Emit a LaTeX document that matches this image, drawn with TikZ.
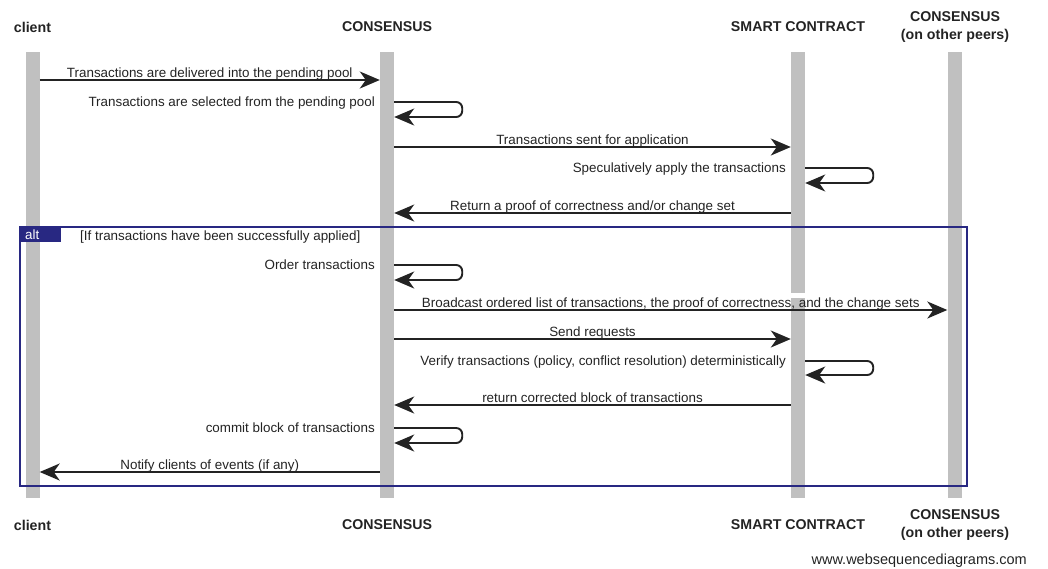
\documentclass[tikz,border=0pt]{standalone}
\usepackage{fontspec}
\setmainfont{Liberation Sans}
\usetikzlibrary{arrows.meta}

\definecolor{barGray}{RGB}{192,192,192}
\definecolor{altNavy}{RGB}{40,40,130}
\definecolor{inkGray}{RGB}{35,35,35}

\begin{document}
\begin{tikzpicture}[
    x=1pt, y=-1pt,
    >={Stealth[length=20pt, width=17pt, inset=6pt]},
    lifebar/.style={fill=barGray, minimum width=14pt, inner sep=0pt},
    actor/.style={font=\bfseries\fontsize{14.2}{18}\selectfont, align=center, inner sep=0pt, text=inkGray},
    msg/.style={->, line width=1.9pt, draw=inkGray},
    loopmsg/.style={msg, rounded corners=6pt},
    msglabel/.style={font=\fontsize{13.4}{15}\selectfont, inner sep=0pt, anchor=base, text=inkGray},
    selflabel/.style={msglabel, anchor=base east}
]

% --- Page frame ---
\useasboundingbox (0,0) rectangle (1048,568);

% --- Lifelines (gray bars) ---
\node[lifebar, minimum height=446pt] (client) at (32.5,275) {};
\node[lifebar, minimum height=446pt] (cons)   at (387,275) {};
\node[lifebar, minimum height=241pt] (sc)     at (798,172.5) {};
\node[lifebar, minimum height=200pt] (scLow)  at (798,398) {};
\node[lifebar, minimum height=446pt] (peers)  at (954.5,275) {};

% --- Actor names, top and bottom ---
\node[actor] (clientTop) at (32.5,27) {client};
\node[actor] (consTop)   at (387,27) {CONSENSUS};
\node[actor] (scTop)     at (798,27) {SMART CONTRACT};
\node[actor] (peersTop)  at (955,27) {CONSENSUS\\(on other peers)};

\node[actor] (clientBot) at (32.5,525) {client};
\node[actor] (consBot)   at (387,525) {CONSENSUS};
\node[actor] (scBot)     at (798,525) {SMART CONTRACT};
\node[actor] (peersBot)  at (955,525) {CONSENSUS\\(on other peers)};

% --- alt frame ---
\draw[altNavy, line width=2pt] (20,227) rectangle (967,486);
\fill[altNavy] (20,227) rectangle (61,242);
\node[msglabel, anchor=base west, text=white] (altTab) at (25,239) {alt};
\node[msglabel, anchor=base west] (altGuard) at (80,240) {[If transactions have been successfully applied]};

% --- Messages ---
\draw[msg] (client.east |- 0,80) -- node[midway, msglabel, yshift=3pt] (m1) {Transactions are delivered into the pending pool} (cons.west |- 0,80);

\node[selflabel] (m2) at (375,106) {Transactions are selected from the pending pool};
\draw[loopmsg] (cons.east |- 0,102) -- ++(68,0) -- ++(0,15) -- (cons.east |- 0,117);

\draw[msg] (cons.east |- 0,147) -- node[midway, msglabel, yshift=3pt] (m3) {Transactions sent for application} (sc.west |- 0,147);

\node[selflabel] (m4) at (786,172) {Speculatively apply the transactions};
\draw[loopmsg] (sc.east |- 0,168) -- ++(68,0) -- ++(0,15) -- (sc.east |- 0,183);

\draw[msg] (sc.west |- 0,213) -- node[midway, msglabel, yshift=3pt] (m5) {Return a proof of correctness and/or change set} (cons.east |- 0,213);

% inside the alt frame
\node[selflabel] (m6) at (375,269) {Order transactions};
\draw[loopmsg] (cons.east |- 0,265) -- ++(68,0) -- ++(0,15) -- (cons.east |- 0,280);

\draw[msg] (cons.east |- 0,310) -- node[midway, msglabel, yshift=3pt] (m7) {Broadcast ordered list of transactions, the proof of correctness, and the change sets} (peers.west |- 0,310);

\draw[msg] (cons.east |- 0,339) -- node[midway, msglabel, yshift=3pt] (m8) {Send requests} (scLow.west |- 0,339);

\node[selflabel] (m9) at (786,365) {Verify transactions (policy, conflict resolution) deterministically};
\draw[loopmsg] (scLow.east |- 0,361) -- ++(68,0) -- ++(0,14) -- (scLow.east |- 0,375);

\draw[msg] (scLow.west |- 0,405) -- node[midway, msglabel, yshift=3pt] (m10) {return corrected block of transactions} (cons.east |- 0,405);

\node[selflabel] (m11) at (375,432) {commit block of transactions};
\draw[loopmsg] (cons.east |- 0,428) -- ++(68,0) -- ++(0,15) -- (cons.east |- 0,443);

\draw[msg] (cons.west |- 0,472) -- node[midway, msglabel, yshift=3pt] (m12) {Notify clients of events (if any)} (client.east |- 0,472);

% --- Watermark ---
\node[msglabel, anchor=base east, font=\fontsize{14.5}{16}\selectfont] (wsd) at (1027,564) {www.websequencediagrams.com};

\end{tikzpicture}
\end{document}
